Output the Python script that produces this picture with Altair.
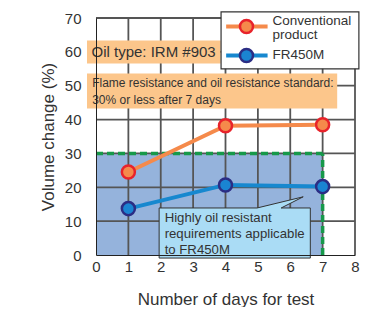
import altair as alt
import pandas as pd

# ---- data ----
days = [1, 4, 7]
conventional = [24.5, 38.2, 38.5]
fr450m = [13.7, 20.7, 20.2]

x_ticks = [0, 1, 2, 3, 4, 5, 6, 7, 8]
y_ticks = [0, 10, 20, 30, 40, 50, 60, 70]

limit_value = 30
limit_day = 7

FONT = "Liberation Sans"

xs = alt.Scale(domain=[0, 8], nice=False, zero=False)
ys = alt.Scale(domain=[0, 70], nice=False, zero=False)
common = dict(grid=False, ticks=False,
              domainColor="#222", labelColor="#333", titleColor="#333", labelFontSize=15,
              titleFontSize=17, labelFont=FONT, titleFont=FONT, titleFontWeight="normal",
              zindex=1, labelFlush=False)
xaxis = alt.Axis(values=x_ticks, title="Number of days for test", labelPadding=4, titlePadding=17, **common)
yaxis = alt.Axis(values=y_ticks, title="Volume change (%)", labelPadding=15, titlePadding=7, **common)


def X(f):
    return alt.X(f, type="quantitative", scale=xs, axis=xaxis)


def Y(f):
    return alt.Y(f, type="quantitative", scale=ys, axis=yaxis)


# shaded requirement region
region = alt.Chart(pd.DataFrame({"x": [0], "x2": [limit_day], "y": [0], "y2": [limit_value]})).mark_rect(
    color="#95b3dc").encode(x=X("x"), x2="x2", y=Y("y"), y2="y2")

# grid lines as rule marks spanning the plot
GRID = "#555555"
grid_v = alt.Chart(pd.DataFrame({"gx": x_ticks[1:], "gy0": [0] * 8, "gy1": [70] * 8})).mark_rule(
    color=GRID, strokeWidth=1.8).encode(x=X("gx"), y=Y("gy0"), y2="gy1")
grid_h = alt.Chart(pd.DataFrame({"hy": y_ticks[1:], "hx0": [0] * 7, "hx1": [8] * 7})).mark_rule(
    color=GRID, strokeWidth=1.8).encode(y=Y("hy"), x=X("hx0"), x2="hx1")

# green dashed limit lines
green_h = alt.Chart(pd.DataFrame({"x": [0], "x2": [limit_day], "y": [limit_value]})).mark_rule(
    color="#17994a", strokeWidth=3.5, strokeDash=[7, 4]).encode(x=X("x"), x2="x2", y=Y("y"))
green_v = alt.Chart(pd.DataFrame({"x": [limit_day], "y": [0], "y2": [limit_value]})).mark_rule(
    color="#17994a", strokeWidth=3.5, strokeDash=[7, 4]).encode(x=X("x"), y=Y("y"), y2="y2")

conv_df = pd.DataFrame({"day": days, "v": conventional})
fr_df = pd.DataFrame({"day": days, "v": fr450m})

conv_line = alt.Chart(conv_df).mark_line(color="#f58a4b", strokeWidth=4).encode(x=X("day"), y=Y("v"))
conv_pts = alt.Chart(conv_df).mark_point(filled=True, fill="#f58a4b", stroke="#e8232b",
                                         strokeWidth=2.5, size=170, opacity=1).encode(x=X("day"), y=Y("v"))
fr_line = alt.Chart(fr_df).mark_line(color="#1788cf", strokeWidth=4).encode(x=X("day"), y=Y("v"))
fr_pts = alt.Chart(fr_df).mark_point(filled=True, fill="#1a84d2", stroke="#2b2d84",
                                     strokeWidth=2.5, size=170, opacity=1).encode(x=X("day"), y=Y("v"))

# orange annotation boxes
boxes = alt.Chart(pd.DataFrame({
    "x": [-0.278, -0.278], "x2": [3.85, 7.45],
    "y": [63.36, 53.61], "y2": [56.56, 43.27]})).mark_rect(color="#fcc68b").encode(
    x=X("x"), x2="x2", y=Y("y"), y2="y2")

oil_text = alt.Chart(pd.DataFrame({"x": [-0.14], "y": [59.96], "t": ["Oil type: IRM #903"]})).mark_text(
    align="left", baseline="middle", font=FONT, fontSize=15, color="#333").encode(
    x=X("x"), y=Y("y"), text="t:N")
std_text = alt.Chart(pd.DataFrame({
    "x": [-0.119, -0.119], "y": [50.66, 45.72],
    "t": ["Flame resistance and oil resistance standard:", "30% or less after 7 days"]})).mark_text(
    align="left", baseline="middle", font=FONT, fontSize=12, color="#333").encode(
    x=X("x"), y=Y("y"), text="t:N")

# callout
callout_df = pd.DataFrame({
    "o": [0, 1, 2, 3, 4, 5, 6],
    "x": [1.95, 4.976, 6.40, 5.72, 6.62, 6.62, 1.95],
    "y": [13.89, 13.89, 17.19, 13.89, 13.89, -0.9, -0.9]})
callout = alt.Chart(callout_df).mark_line(interpolate="linear-closed", fill="#aadcf5", stroke="#333",
                                          strokeWidth=1).encode(x=X("x"), y=Y("y"), order="o:Q")
callout_text = alt.Chart(pd.DataFrame({
    "x": [2.12, 2.12, 2.12], "y": [10.79, 6.07, 1.34],
    "t": ["Highly oil resistant", "requirements applicable", "to FR450M"]})).mark_text(
    align="left", baseline="middle", font=FONT, fontSize=13.2, color="#333").encode(
    x=X("x"), y=Y("y"), text="t:N")

# legend
SER = ["Conventional product", "FR450M"]
leg_box = alt.Chart(pd.DataFrame({"x": [3.863], "x2": [8.12], "y": [71.83], "y2": [55.0]})).mark_rect(
    fill="white", stroke="#333", strokeWidth=1.2).encode(x=X("x"), x2="x2", y=Y("y"), y2="y2")
leg_lines = alt.Chart(pd.DataFrame({"x": [4.02, 4.02], "x2": [5.30, 5.30], "y": [67.49, 58.93],
                                    "s": SER})).mark_rule(strokeWidth=4).encode(
    x=X("x"), x2="x2", y=Y("y"),
    color=alt.Color("s:N", scale=alt.Scale(domain=SER, range=["#f58a4b", "#1788cf"]), legend=None))
leg_pts = alt.Chart(pd.DataFrame({"x": [4.648, 4.648], "y": [67.49, 58.93], "s": SER})).mark_point(
    filled=True, strokeWidth=2.5, size=170, opacity=1).encode(
    x=X("x"), y=Y("y"),
    fill=alt.Fill("s:N", scale=alt.Scale(domain=SER, range=["#f58a4b", "#1a84d2"]), legend=None),
    stroke=alt.Stroke("s:N", scale=alt.Scale(domain=SER, range=["#e8232b", "#2b2d84"]), legend=None))
leg_text = alt.Chart(pd.DataFrame({"x": [5.45, 5.45, 5.45], "y": [69.1, 65.1, 58.93],
                                   "t": ["Conventional", "product", "FR450M"]})).mark_text(
    align="left", baseline="middle", font=FONT, fontSize=13.5, color="#333").encode(
    x=X("x"), y=Y("y"), text="t:N")

chart = alt.layer(
    region, grid_v, grid_h, green_h, green_v,
    conv_line, fr_line, conv_pts, fr_pts,
    boxes, oil_text, std_text, callout, callout_text,
    leg_box, leg_lines, leg_pts, leg_text,
).resolve_scale(color="independent", fill="independent", stroke="independent").properties(
    width=259, height=237,
    padding={"left": 31, "top": 3, "right": 0, "bottom": 0},
).configure_view(stroke=None)

chart.save("out.html", embed_options={"renderer": "svg", "actions": False})
